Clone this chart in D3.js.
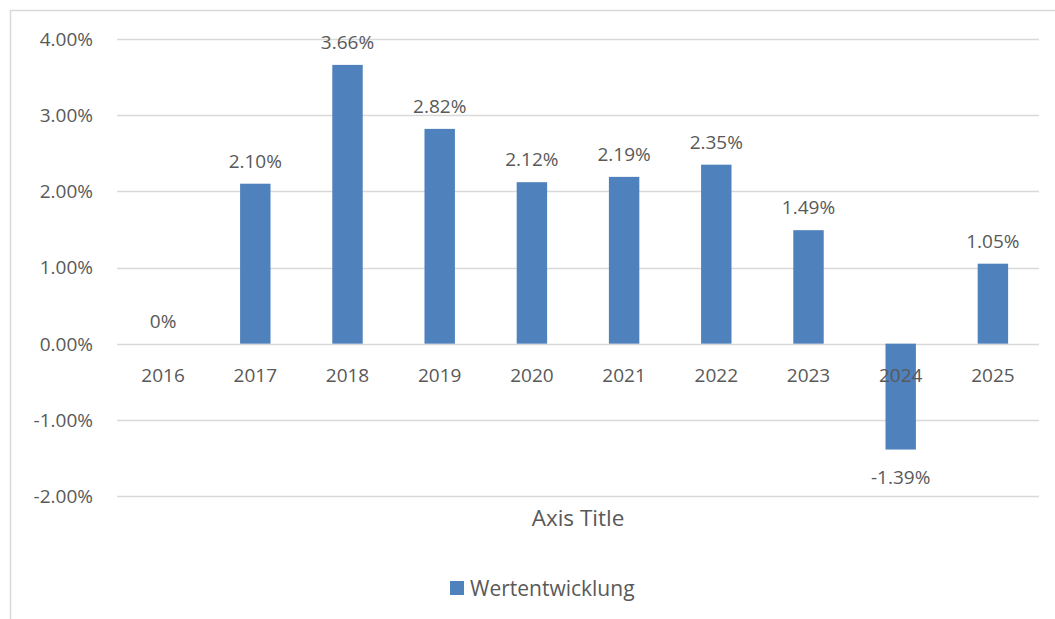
<!DOCTYPE html>
<html>
<head>
<meta charset="utf-8">
<script src="https://cdn.jsdelivr.net/npm/d3@7"></script>
<style>
  body { margin: 0; background: #fff; }
  svg text { font-family: "Open Sans", "Noto Sans", sans-serif; fill: #595959; }
</style>
</head>
<body>
<svg id="chart" width="1055" height="619"></svg>
<script>
const years = ['2016', '2017', '2018', '2019', '2020', '2021', '2022', '2023', '2024', '2025'];
const growth = [0, 2.10, 3.66, 2.82, 2.12, 2.19, 2.35, 1.49, -1.39, 1.05];
const yTicks = [-2, -1, 0, 1, 2, 3, 4];
const valueLabels = ['0%', '2.10%', '3.66%', '2.82%', '2.12%', '2.19%', '2.35%', '1.49%', '-1.39%', '1.05%'];
const seriesName = 'Wertentwicklung';
const axisTitle = 'Axis Title';

const BAR_COLOR = '#4f81bd';
const GRID_COLOR = '#d9d9d9';
const NUM_SIZE = 19;

const svg = d3.select('#chart');
const plot = { left: 117, right: 1039, top: 39, bottom: 496 };

// Rahmen im Excel-Stil, rechts und unten abgeschnitten
svg.append('rect')
  .attr('x', 10.5).attr('y', 10.5)
  .attr('width', 1100).attr('height', 700)
  .attr('fill', 'none').attr('stroke', GRID_COLOR).attr('stroke-width', 1.5);

const x = d3.scaleBand().domain(years).range([plot.left, plot.right]).paddingInner(0.67).paddingOuter(0.335);
const y = d3.scaleLinear().domain([-2, 4]).range([plot.bottom, plot.top]);
const pct = (d) => d3.format('.2f')(d).replace('−', '-') + '%';

svg.append('g')
  .selectAll('line')
  .data(yTicks)
  .join('line')
  .attr('x1', plot.left).attr('x2', plot.right)
  .attr('y1', (d) => Math.round(y(d)) + 0.5).attr('y2', (d) => Math.round(y(d)) + 0.5)
  .attr('stroke', GRID_COLOR).attr('stroke-width', 1.5);

svg.append('g')
  .selectAll('text')
  .data(yTicks)
  .join('text')
  .attr('x', 93).attr('y', (d) => y(d))
  .attr('dy', '0.36em')
  .attr('text-anchor', 'end')
  .attr('font-size', NUM_SIZE)
  .text(pct);

svg.append('g')
  .selectAll('rect')
  .data(growth)
  .join('rect')
  .attr('x', (d, i) => x(years[i]))
  .attr('width', x.bandwidth())
  .attr('y', (d) => y(Math.max(0, d)))
  .attr('height', (d) => Math.abs(y(d) - y(0)))
  .attr('fill', BAR_COLOR);

svg.append('g')
  .selectAll('text')
  .data(years)
  .join('text')
  .attr('x', (d) => x(d) + x.bandwidth() / 2)
  .attr('y', y(0) + 31)
  .attr('dy', '0.36em')
  .attr('text-anchor', 'middle')
  .attr('font-size', NUM_SIZE)
  .text((d) => d);

svg.append('g')
  .selectAll('text')
  .data(growth)
  .join('text')
  .attr('x', (d, i) => x(years[i]) + x.bandwidth() / 2)
  .attr('y', (d) => (d >= 0 ? y(d) - 23 : y(d) + 28))
  .attr('dy', '0.36em')
  .attr('text-anchor', 'middle')
  .attr('font-size', NUM_SIZE)
  .text((d, i) => valueLabels[i]);

svg.append('text')
  .attr('x', (plot.left + plot.right) / 2)
  .attr('y', 518)
  .attr('dy', '0.36em')
  .attr('text-anchor', 'middle')
  .attr('font-size', 22.5)
  .text(axisTitle);

const legend = svg.append('g');
legend.append('rect')
  .attr('x', 450).attr('y', 581).attr('width', 14).attr('height', 14)
  .attr('fill', BAR_COLOR);
legend.append('text')
  .attr('x', 470).attr('y', 588)
  .attr('dy', '0.36em')
  .attr('font-size', 21)
  .text(seriesName);
</script>
</body>
</html>
